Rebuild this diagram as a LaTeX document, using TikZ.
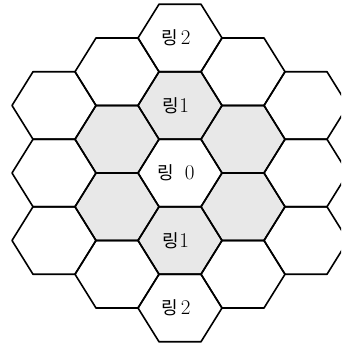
\documentclass[tikz,border=0pt]{standalone}
\usepackage{fontspec}
\newfontfamily\kr{Noto Sans CJK KR}
\newcommand\dg[1]{{\fontsize{21}{21}\selectfont #1}}
\begin{document}
\begin{tikzpicture}[x=1pt,y=1pt,
  hexline/.style={line width=1.6pt,line join=round},
  ringone/.style={fill=black!9},
  lab/.style={font=\fontsize{18}{18}\selectfont,inner sep=0pt,xshift=-4pt}]
\useasboundingbox (0,0) rectangle (341,345);
\clip (0,0) rectangle (341,345);
\newcommand\hexpath[2]{(#1-42,#2) -- (#1-21,#2+33.75) -- (#1+21,#2+33.75) -- (#1+42,#2) -- (#1+21,#2-33.75) -- (#1-21,#2-33.75) -- cycle}
\begin{scope}[shift={(180,172)}]
  % ring 1 fill
  \foreach \cx/\cy in {0/67.5,0/-67.5,63/33.75,63/-33.75,-63/33.75,-63/-33.75}
    \fill[ringone] \hexpath{\cx}{\cy};
  % all outlines
  \foreach \cx/\cy in {0/0,
      0/67.5,0/-67.5,63/33.75,63/-33.75,-63/33.75,-63/-33.75,
      0/135,0/-135,63/101.25,63/-101.25,-63/101.25,-63/-101.25,
      126/0,-126/0,126/67.5,126/-67.5,-126/67.5,-126/-67.5}
    \draw[hexline] \hexpath{\cx}{\cy};
  \node[lab] (r2t) at (0,135) {{\kr 링}\,\dg{2}};
  \node[lab] (r1t) at (0,67.5) {{\kr 링}\dg{1}};
  \node[lab] (r0) at (0,0) {{\kr 링}\ \ \dg{0}};
  \node[lab] (r1b) at (0,-67.5) {{\kr 링}\dg{1}};
  \node[lab] (r2b) at (0,-135) {{\kr 링}\,\dg{2}};
\end{scope}
\end{tikzpicture}
\end{document}
